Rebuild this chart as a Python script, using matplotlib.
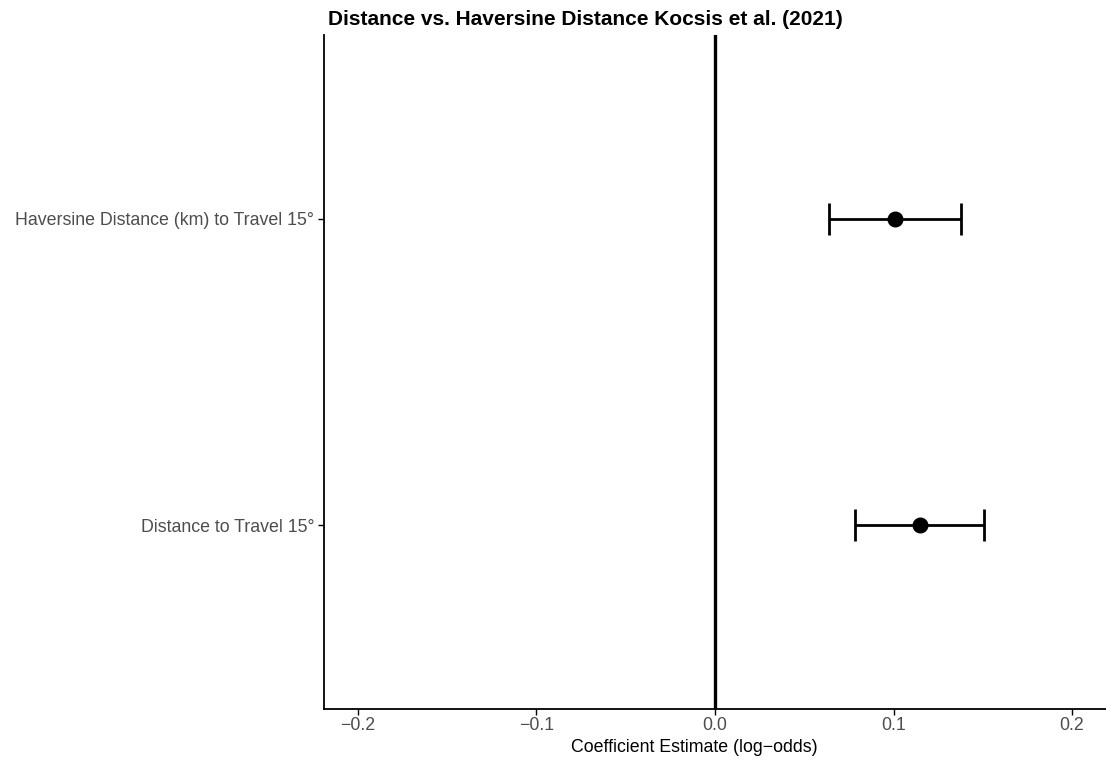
import matplotlib.pyplot as plt

# Daten
terms = ["Distance to Travel 15°", "Haversine Distance (km) to Travel 15°"]
estimates = [0.1146, 0.1010]
ci_low = [0.0785, 0.0641]
ci_high = [0.1505, 0.1378]
xticks = [-0.2, -0.1, 0.0, 0.1, 0.2]
xtick_labels = ["\u22120.2", "\u22120.1", "0.0", "0.1", "0.2"]

plt.rcParams['font.family'] = ['Liberation Sans', 'DejaVu Sans']

fig = plt.figure(figsize=(11.06, 7.61), dpi=100)
ax = fig.add_axes([324 / 1106, 1 - 709 / 761, (1106 - 324) / 1106, (709 - 35) / 761])

ypos = list(range(1, len(terms) + 1))
err_lo = [e - l for e, l in zip(estimates, ci_low)]
err_hi = [h - e for e, h in zip(estimates, ci_high)]

ax.axvline(0, color='black', lw=2.4, zorder=1)
ax.errorbar(estimates, ypos, xerr=[err_lo, err_hi], fmt='o', color='black',
            ms=10.5, lw=2.0, capsize=11.5, capthick=2.0, zorder=3)

ax.set_xlim(-0.219, 0.219)
ax.set_ylim(0.4, 2.6)
ax.set_yticks(ypos)
ax.set_yticklabels(terms)
ax.set_xticks(xticks)
ax.set_xticklabels(xtick_labels)

for s in ['top', 'right']:
    ax.spines[s].set_visible(False)
for s in ['left', 'bottom']:
    ax.spines[s].set_linewidth(1.3)
ax.tick_params(axis='both', length=4, width=1.0, labelsize=12.8, labelcolor='#4d4d4d', pad=2)
ax.tick_params(axis='y', pad=3)

ax.set_xlabel("Coefficient Estimate (log\u2212odds)", fontsize=12.8)
ax.xaxis.set_label_coords(0.473, -0.045)
title = ax.set_title("Distance vs. Haversine Distance Kocsis et al. (2021)", loc='left',
                     fontsize=15, fontweight='bold', pad=7)
title.set_x(0.005)

plt.savefig('out.png', dpi=100)
